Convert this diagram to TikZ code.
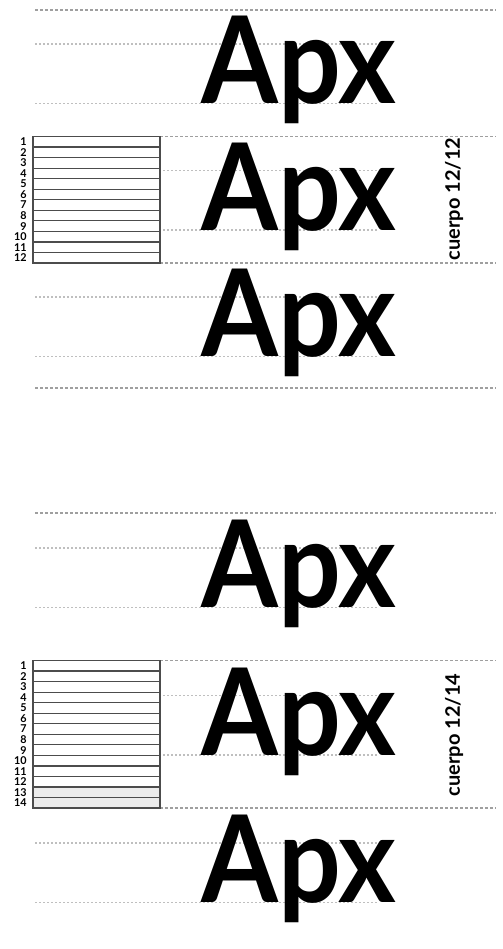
\documentclass[tikz,border=0pt]{standalone}
\usepackage{fontspec}
\setmainfont{Lato}
\begin{document}
\begin{tikzpicture}[x=0.5pt,y=-0.5pt,
    guia/.style={gray!75,line width=0.55pt,dash pattern=on 1.5pt off 1pt},
    guiacorta/.style={gray!50,line width=0.55pt,dash pattern=on 1pt off 1pt},
    letra/.style={inner sep=0pt,anchor=base west,xscale=.915,
        font=\fontsize{60.5}{60.5}\selectfont\bfseries},
    fila/.style={draw=black!70,line width=0.6pt,fill=white},
    num/.style={inner sep=0pt,anchor=east,font=\fontsize{5.4}{5.4}\selectfont\bfseries},
    rotulo/.style={rotate=90,inner sep=0pt,font=\fontsize{10}{10}\selectfont\bfseries}]
    \useasboundingbox (0,0) rectangle (503,949);

    % Cuerpo 12 con interlineado 12: tres lineas.
    \foreach \t [count=\i] in {10,136.5,263} {
        \draw[guiacorta] (35,\t+34) -- (378,\t+34);
        \draw[guiacorta] (35,\t+93.5) -- (378,\t+93.5);
    }
    \draw[guia] (35,10) -- (496,10);
    \draw[guia] (160,136.5) -- (496,136.5);
    \draw[guia] (160,263) -- (496,263);
    \draw[guia] (35,388) -- (496,388);
    \foreach \k in {1,...,12} {
        \draw[fila] (33,{136.5+(\k-1)*10.54}) rectangle ++(127,10.54);
        \node[num] (na\k) at (27,{136.5+(\k-.5)*10.54}) {\k};
    }
    \foreach \t [count=\i] in {10,136.5,263} {
        \node[letra] (apxa\i) at (201,\t+93.5) {Apx};
    }
    \node[rotulo] (cuerpoa) at (454,199) {cuerpo 12/12};

    % Cuerpo 12 con interlineado 14: dos lineas de blanco.
    \foreach \t [count=\i] in {513,660.5,808} {
        \draw[guiacorta] (35,\t+35) -- (378,\t+35);
        \draw[guiacorta] (35,\t+94.5) -- (378,\t+94.5);
    }
    \draw[guia] (35,513) -- (496,513);
    \draw[guia] (160,660.5) -- (496,660.5);
    \draw[guia] (160,808) -- (496,808);
    \foreach \k in {1,...,14} {
        \ifnum\k>12 \tikzset{fila/.append style={fill=gray!15}}\fi
        \draw[fila] (33,{660.5+(\k-1)*10.54}) rectangle ++(127,10.54);
        \node[num] (nb\k) at (27,{660.5+(\k-.5)*10.54}) {\k};
    }
    \foreach \t [count=\i] in {513,660.5,808} {
        \node[letra] (apxb\i) at (201,\t+94.5) {Apx};
    }
    \node[rotulo] (cuerpob) at (454,735) {cuerpo 12/14};
\end{tikzpicture}
\end{document}
